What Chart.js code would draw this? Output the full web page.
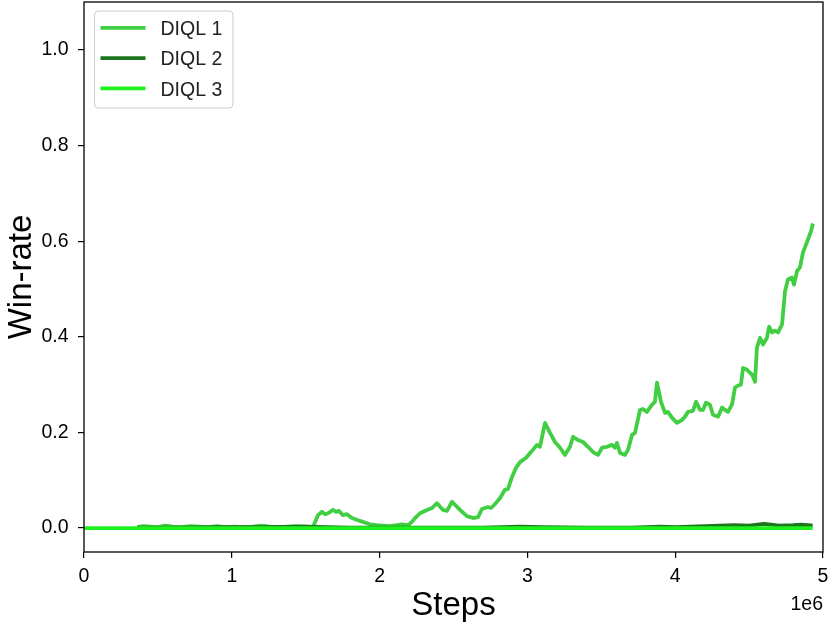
<!DOCTYPE html>
<html><head><meta charset="utf-8">
<script src="https://cdn.jsdelivr.net/npm/chart.js@4/dist/chart.umd.min.js"></script>
<style>html,body{margin:0;padding:0;background:#fff}#wrap{width:831px;height:628px}</style>
</head><body><div id="wrap"><canvas id="c" width="831" height="628"></canvas></div>
<script>
const seriesLabels = ['DIQL 1', 'DIQL 2', 'DIQL 3'];
const seriesColors = ['rgb(66,206,66)', 'rgb(28,118,28)', 'rgb(30,242,30)'];

// Steps in units of 1e6
const diql1Steps = [0.36,0.40,0.45,0.50,0.55,0.60,0.66,0.72,0.78,0.84,0.90,0.96,1.02,1.08,1.14,1.20,1.26,1.32,1.38,1.44,1.50,
  1.549,1.583,1.61,1.631,1.651,1.685,1.705,1.725,1.752,1.779,1.813,1.867,1.935,1.982,2.07,2.152,2.192,2.219,2.24,2.273,
  2.321,2.355,2.388,2.429,2.456,2.49,2.544,2.591,2.632,2.666,2.693,2.733,2.754,2.781,2.815,2.848,2.869,2.896,2.923,2.95,
  2.991,3.018,3.038,3.065,3.085,3.119,3.153,3.187,3.221,3.254,3.288,3.309,3.342,3.376,3.41,3.444,3.478,3.505,3.539,3.572,
  3.593,3.606,3.627,3.66,3.681,3.708,3.728,3.762,3.782,3.809,3.843,3.863,3.877,3.904,3.931,3.951,3.978,4.012,4.046,4.066,
  4.087,4.12,4.141,4.168,4.188,4.208,4.235,4.256,4.29,4.317,4.337,4.357,4.384,4.405,4.425,4.445,4.459,4.486,4.52,4.54,
  4.553,4.574,4.594,4.621,4.635,4.655,4.675,4.696,4.723,4.743,4.763,4.79,4.804,4.824,4.844,4.865,4.878,4.899,4.919,4.932];
const diql1WinRate = [0.002,0.004,0.003,0.002,0.005,0.003,0.002,0.004,0.003,0.002,0.004,0.002,0.003,0.002,0.003,0.005,0.003,0.002,0.003,0.004,0.003,
  0.002,0.027,0.034,0.029,0.031,0.038,0.034,0.036,0.027,0.029,0.021,0.015,0.008,0.006,0.004,0.008,0.006,0.013,0.021,0.031,
  0.038,0.042,0.052,0.038,0.036,0.055,0.038,0.025,0.021,0.023,0.040,0.044,0.042,0.050,0.063,0.080,0.082,0.107,0.126,0.138,
  0.147,0.157,0.164,0.174,0.170,0.220,0.199,0.180,0.168,0.153,0.170,0.191,0.184,0.180,0.170,0.159,0.153,0.168,0.170,0.174,
  0.168,0.178,0.157,0.153,0.164,0.195,0.199,0.247,0.249,0.243,0.258,0.264,0.304,0.264,0.241,0.243,0.231,0.220,0.226,0.233,
  0.243,0.245,0.264,0.247,0.247,0.262,0.258,0.237,0.233,0.252,0.247,0.243,0.258,0.294,0.298,0.300,0.335,0.331,0.321,0.306,
  0.377,0.398,0.384,0.398,0.421,0.409,0.413,0.409,0.426,0.495,0.520,0.524,0.509,0.537,0.545,0.577,0.587,0.604,0.621,0.637];

const diql2Steps = [0.36,0.6,0.9,1.2,1.5,1.8,2.1,2.4,2.7,2.95,3.1,3.4,3.7,3.9,4.0,4.2,4.3,4.4,4.5,4.6,4.65,4.7,4.8,4.85,4.9,4.93];
const diql2WinRate = [0.001,0.001,0.002,0.002,0.003,0.001,0.001,0.001,0.001,0.003,0.002,0.001,0.001,0.003,0.002,0.004,0.005,0.006,0.005,0.009,0.007,0.005,0.006,0.007,0.006,0.005];

const diql3Steps = [0, 1, 2, 3, 4, 4.93];
const diql3WinRate = [0, 0, 0, 0, 0, 0];

const xTicks = [0, 1, 2, 3, 4, 5];
const yTicks = [0.0, 0.2, 0.4, 0.6, 0.8, 1.0];
const xRange = [0, 5];
const yRange = [-0.05, 1.1];
const xLabel = 'Steps';
const yLabel = 'Win-rate';
const xOffsetText = '1e6';

const FONT = "'Liberation Sans', Arial, sans-serif";
const toPts = (xs, ys) => xs.map((x, i) => ({x: x, y: ys[i]}));

const extras = {
  id: 'extras',
  afterDraw(chart) {
    const ctx = chart.ctx, a = chart.chartArea;
    ctx.save();
    ctx.strokeStyle = '#000';
    ctx.lineWidth = 1.3;
    ctx.strokeRect(a.left, a.top, a.right - a.left, a.bottom - a.top);
    ctx.fillStyle = '#000';
    ctx.font = '19.5px ' + FONT;
    ctx.textAlign = 'right';
    ctx.textBaseline = 'alphabetic';
    ctx.fillText(xOffsetText, a.right, 609.5);
    // legend
    const lx = 94.5, ly = 11, lw = 138.5, lh = 97, r = 4;
    ctx.beginPath();
    ctx.moveTo(lx + r, ly);
    ctx.arcTo(lx + lw, ly, lx + lw, ly + lh, r);
    ctx.arcTo(lx + lw, ly + lh, lx, ly + lh, r);
    ctx.arcTo(lx, ly + lh, lx, ly, r);
    ctx.arcTo(lx, ly, lx + lw, ly, r);
    ctx.closePath();
    ctx.fillStyle = 'rgba(255,255,255,0.8)';
    ctx.fill();
    ctx.strokeStyle = '#cccccc';
    ctx.lineWidth = 1;
    ctx.stroke();
    const ds = chart.data.datasets;
    ctx.textAlign = 'left';
    for (let i = 0; i < ds.length; i++) {
      const cy = 27.8 + i * 30.3;
      ctx.beginPath();
      ctx.moveTo(100.5, cy);
      ctx.lineTo(145.5, cy);
      ctx.strokeStyle = ds[i].borderColor;
      ctx.lineWidth = 3.8;
      ctx.stroke();
      ctx.fillStyle = '#222';
      ctx.fillText(ds[i].label, 160.5, cy + 7.2);
    }
    ctx.restore();
  }
};

new Chart(document.getElementById('c'), {
  type: 'line',
  data: {
    datasets: [
      {label: seriesLabels[0], data: toPts(diql1Steps, diql1WinRate), borderColor: seriesColors[0], order: 2},
      {label: seriesLabels[1], data: toPts(diql2Steps, diql2WinRate), borderColor: seriesColors[1], order: 1},
      {label: seriesLabels[2], data: toPts(diql3Steps, diql3WinRate), borderColor: seriesColors[2], order: 0}
    ].map(d => Object.assign(d, {borderWidth: 3.8, pointRadius: 0, tension: 0, fill: false, borderJoinStyle: 'round', borderCapStyle: 'butt'}))
  },
  options: {
    responsive: false,
    animation: false,
    devicePixelRatio: 1,
    layout: {padding: {left: 0, top: 2, right: 8, bottom: 0}},
    plugins: {legend: {display: false}, tooltip: {enabled: false}},
    scales: {
      x: {
        type: 'linear', min: xRange[0], max: xRange[1],
        afterBuildTicks: s => { s.ticks = xTicks.map(v => ({value: v})); },
        afterFit: s => { s.height = 76; s.paddingLeft = 0; s.paddingRight = 0; },
        ticks: {callback: v => String(v), font: {family: FONT, size: 19.5}, color: '#000', padding: 7, maxRotation: 0, autoSkip: false},
        grid: {drawOnChartArea: false, drawTicks: true, tickLength: 6, color: '#000', lineWidth: 1.2},
        border: {display: false},
        title: {display: true, text: xLabel, font: {family: FONT, size: 33, lineHeight: 1.2}, color: '#000', padding: {top: 0, bottom: 2}}
      },
      y: {
        type: 'linear', min: yRange[0], max: yRange[1],
        afterBuildTicks: s => { s.ticks = yTicks.map(v => ({value: v})); },
        afterFit: s => { s.width = 84; s.paddingTop = 0; s.paddingBottom = 0; },
        ticks: {callback: v => Number(v).toFixed(1), font: {family: FONT, size: 19.5}, color: '#000', padding: 9.5, autoSkip: false},
        grid: {drawOnChartArea: false, drawTicks: true, tickLength: 6, color: '#000', lineWidth: 1.2},
        border: {display: false},
        title: {display: true, text: yLabel, font: {family: FONT, size: 33, lineHeight: 1.2}, color: '#000', padding: {top: 2, bottom: 0}}
      }
    }
  },
  plugins: [extras]
});
</script></body></html>
